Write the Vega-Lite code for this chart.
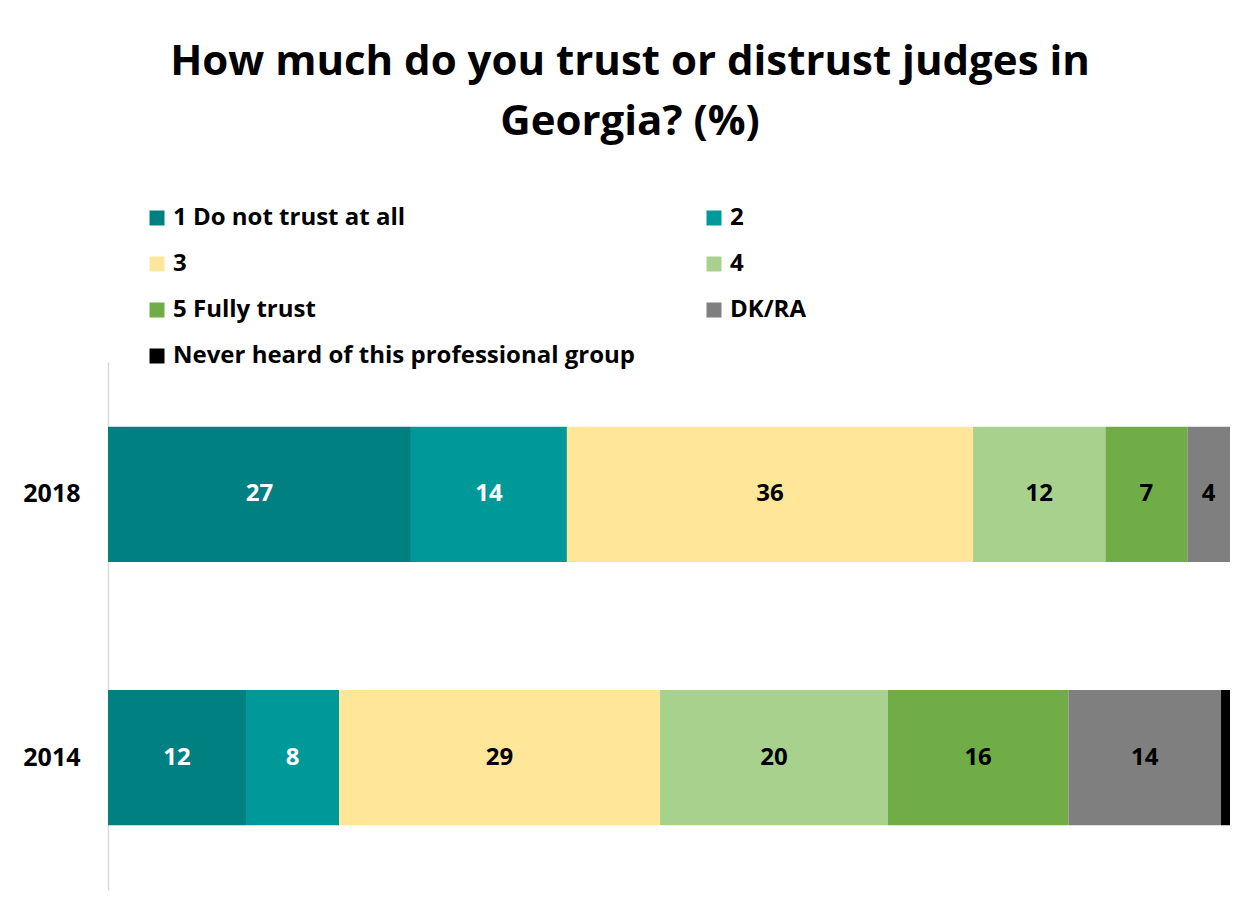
{
  "$schema": "https://vega.github.io/schema/vega-lite/v6.json",
  "width": 1122,
  "height": 528,
  "autosize": {"type": "none"},
  "padding": {"left": 108, "top": 362, "right": 19, "bottom": 18},
  "background": "white",
  "title": {
    "text": ["How much do you trust or distrust judges in", "Georgia? (%)"],
    "font": "Open Sans",
    "fontWeight": "bold",
    "fontSize": 42,
    "lineHeight": 60,
    "color": "black",
    "anchor": "middle",
    "frame": "group",
    "dx": -39,
    "baseline": "bottom",
    "offset": 20
  },
  "data": {
    "values": [
      {"year": "2018", "answer": "1 Do not trust at all", "value": 27.0},
      {"year": "2018", "answer": "2", "value": 13.9},
      {"year": "2018", "answer": "3", "value": 36.2},
      {"year": "2018", "answer": "4", "value": 11.8},
      {"year": "2018", "answer": "5 Fully trust", "value": 7.3},
      {"year": "2018", "answer": "DK/RA", "value": 3.8},
      {"year": "2018", "answer": "Never heard of this professional group", "value": 0.0},
      {"year": "2014", "answer": "1 Do not trust at all", "value": 12.3},
      {"year": "2014", "answer": "2", "value": 8.3},
      {"year": "2014", "answer": "3", "value": 28.6},
      {"year": "2014", "answer": "4", "value": 20.3},
      {"year": "2014", "answer": "5 Fully trust", "value": 16.1},
      {"year": "2014", "answer": "DK/RA", "value": 13.6},
      {"year": "2014", "answer": "Never heard of this professional group", "value": 0.8}
    ]
  },
  "encoding": {
    "y": {
      "field": "year",
      "type": "nominal",
      "sort": ["2018", "2014"],
      "scale": {"paddingInner": 0.486, "paddingOuter": 0.246},
      "axis": {
        "title": null,
        "ticks": false,
        "domain": true,
        "domainColor": "#d9d9d9",
        "domainWidth": 1.5,
        "labelFont": "Open Sans",
        "labelFontWeight": "bold",
        "labelFontSize": 25,
        "labelColor": "black",
        "labelPadding": 28,
        "grid": false
      }
    }
  },
  "layer": [
    {
      "mark": {"type": "bar"},
      "encoding": {
        "x": {
          "field": "value",
          "type": "quantitative",
          "stack": "zero",
          "scale": {"domain": [0, 100], "nice": false},
          "axis": null
        },
        "color": {
          "field": "answer",
          "type": "nominal",
          "scale": {
            "domain": ["1 Do not trust at all", "2", "3", "4", "5 Fully trust", "DK/RA", "Never heard of this professional group"],
            "range": ["#008080", "#009999", "#FFE699", "#A9D18E", "#70AD47", "#7F7F7F", "#000000"]
          },
          "legend": {
            "title": null,
            "orient": "none",
            "direction": "horizontal",
            "legendX": 37,
            "legendY": -156,
            "columns": 2,
            "columnPadding": 66,
            "rowPadding": 22,
            "padding": 0,
            "symbolType": "square",
            "symbolSize": 225,
            "symbolStrokeWidth": 0,
            "symbolOpacity": 1,
            "labelFont": "Open Sans",
            "labelFontWeight": "bold",
            "labelFontSize": 24,
            "labelColor": "black",
            "labelOffset": 4,
            "labelLimit": 0
          }
        }
      }
    },
    {
      "transform": [
        {"stack": "value", "groupby": ["year"], "sort": [{"field": "answer", "order": "ascending"}], "as": ["v0", "v1"]},
        {"fold": ["v0", "v1"], "as": ["edge", "pos"]},
        {"aggregate": [{"op": "mean", "field": "pos", "as": "mid"}], "groupby": ["year", "answer", "value"]},
        {"filter": "datum.value >= 2"}
      ],
      "mark": {"type": "text", "font": "Open Sans", "fontWeight": "bold", "fontSize": 24, "baseline": "middle", "align": "center"},
      "encoding": {
        "x": {"field": "mid", "type": "quantitative"},
        "text": {"field": "value", "type": "quantitative", "format": ".0f"},
        "color": {
          "condition": {"test": "datum.answer == '1 Do not trust at all' || datum.answer == '2'", "value": "white"},
          "value": "black"
        }
      }
    }
  ],
  "config": {
    "view": {"stroke": null}
  }
}
